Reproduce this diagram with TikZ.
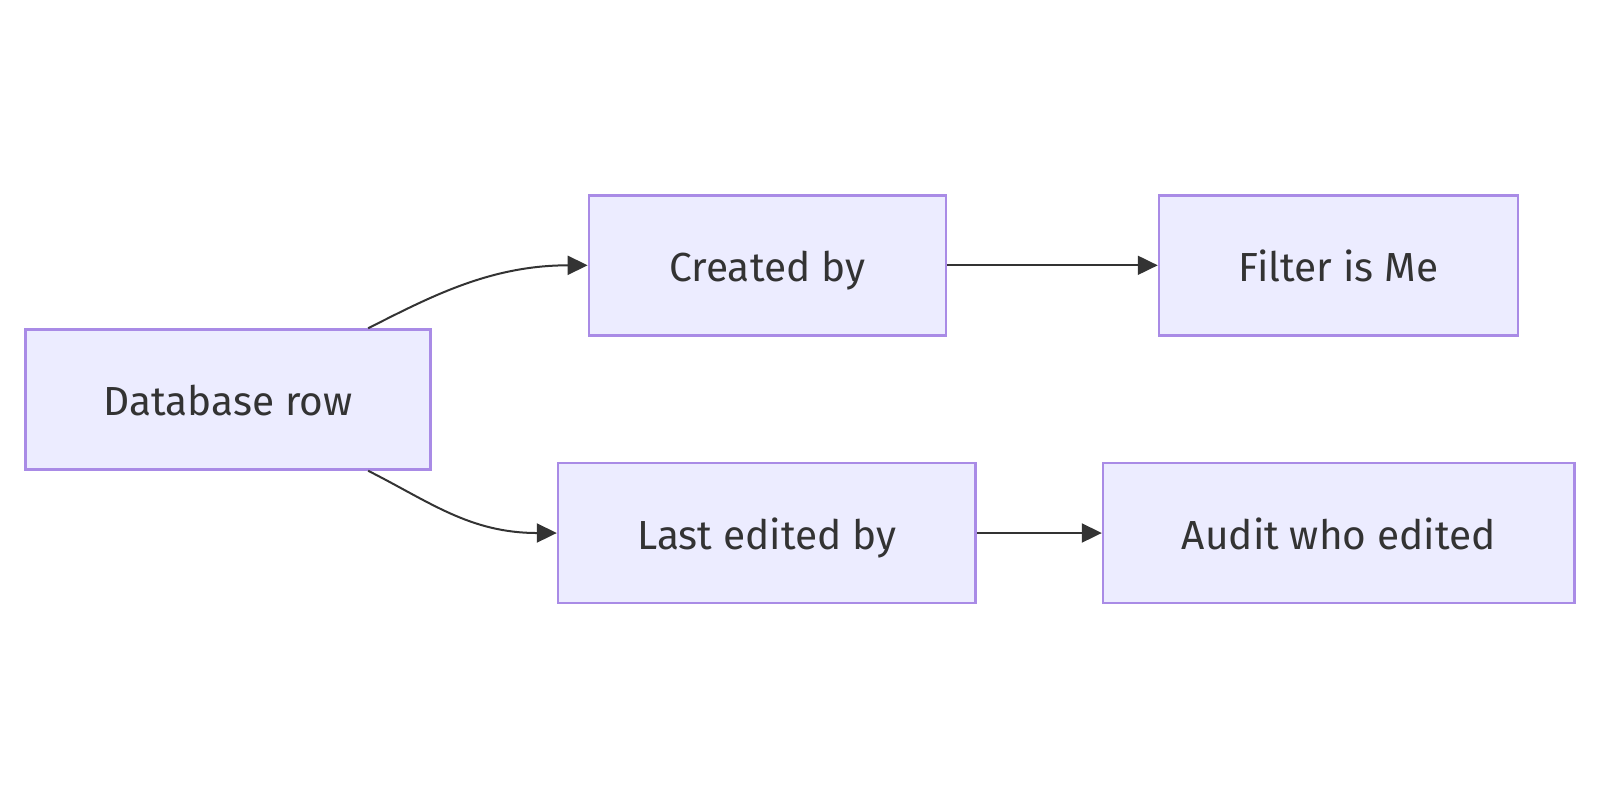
\documentclass[tikz,border=0pt]{standalone}
\usepackage{fontspec}
\setmainfont{Fira Sans}
\usetikzlibrary{arrows.meta}
\definecolor{nodefill}{HTML}{ECECFF}
\definecolor{nodeborder}{HTML}{A98BE6}
\definecolor{ink}{HTML}{333333}
\tikzset{
  box/.style={draw=nodeborder, fill=nodefill, line width=1.25pt, minimum height=70pt,
    inner sep=0pt, text height=20pt, text depth=4pt,
    font=\fontsize{20.3}{24}\selectfont, text=ink},
  link/.style={draw=ink, line width=1pt, -{Triangle[length=10pt,width=9.5pt]}}
}
\begin{document}
\begin{tikzpicture}[x=0.5pt,y=-0.5pt]
\useasboundingbox (0,0) rectangle (1600,800);
\node[box, minimum width=202.5pt] (db) at (228,399.5) {Database row};
\node[box, minimum width=178.5pt] (cb) at (767.4,265.3) {Created by};
\node[box, minimum width=179.5pt] (fm) at (1338.5,265.3) {Filter is Me};
\node[box, minimum width=208.75pt] (le) at (766.8,533) {Last edited by};
\node[box, minimum width=235.75pt] (aw) at (1338.8,533) {Audit who edited};
\draw[link] ([xshift=-31.8pt]db.north east) .. controls (430,297) and (490,265.3) .. (cb.west);
\draw[link] ([xshift=-31.8pt]db.south east) .. controls (430,502) and (470,533) .. (le.west);
\draw[link] (cb.east) -- (fm.west);
\draw[link] (le.east) -- (aw.west);
\end{tikzpicture}
\end{document}
